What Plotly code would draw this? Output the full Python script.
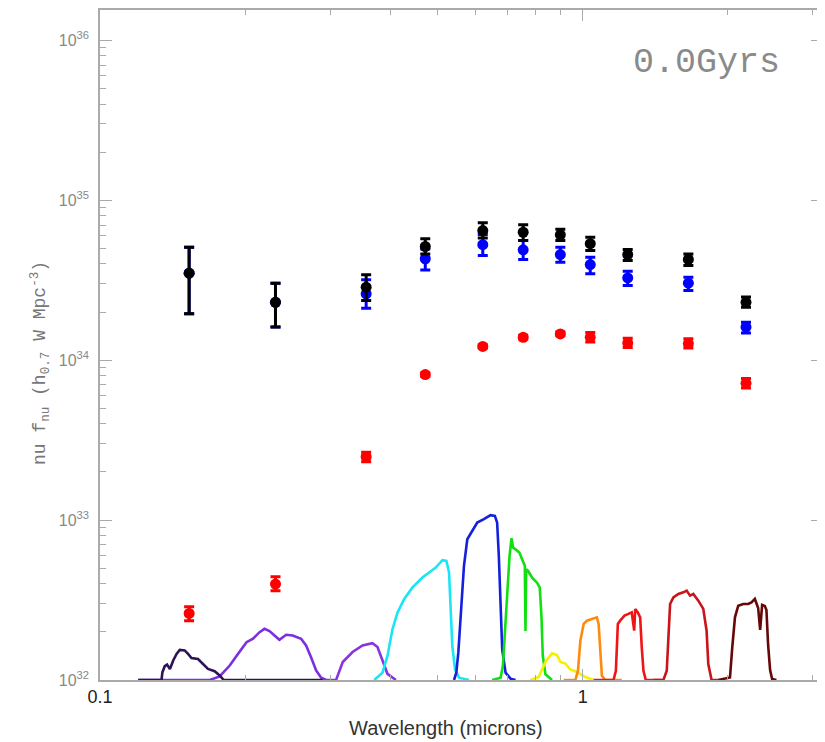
import plotly.graph_objects as go

# ---- photometric points (wavelength in microns, nu f_nu in h0.7 W Mpc^-3) ----
wavelength = [0.153, 0.231, 0.356, 0.472, 0.621, 0.753, 0.899, 1.037, 1.24, 1.656, 2.18]

black_val = [3.50e34, 2.30e34, 2.86e34, 5.14e34, 6.47e34, 6.31e34, 6.08e34, 5.35e34, 4.58e34, 4.27e34, 2.30e34]
black_hi = [5.09e34, 3.03e34, 3.42e34, 5.74e34, 7.23e34, 7.03e34, 6.60e34, 5.88e34, 4.92e34, 4.62e34, 2.48e34]
black_lo = [1.95e34, 1.61e34, 2.36e34, 4.62e34, 5.82e34, 5.60e34, 5.60e34, 4.86e34, 4.20e34, 3.91e34, 2.14e34]

blue_val = [3.50e34, 2.30e34, 2.60e34, 4.31e34, 5.28e34, 4.90e34, 4.58e34, 3.96e34, 3.27e34, 3.03e34, 1.61e34]
blue_hi = [5.09e34, 3.03e34, 3.18e34, 4.95e34, 6.10e34, 5.60e34, 5.09e34, 4.40e34, 3.60e34, 3.30e34, 1.73e34]
blue_lo = [1.95e34, 1.61e34, 2.11e34, 3.67e34, 4.52e34, 4.27e34, 4.10e34, 3.47e34, 2.93e34, 2.73e34, 1.48e34]

red_val = [2.61e32, 3.98e32, 2.49e33, 8.13e33, 1.22e34, 1.39e34, 1.46e34, 1.39e34, 1.28e34, 1.27e34, 7.17e33]
red_hi = [2.87e32, 4.42e32, 2.66e33, 8.35e33, 1.25e34, 1.43e34, 1.50e34, 1.49e34, 1.37e34, 1.36e34, 7.67e33]
red_lo = [2.35e32, 3.61e32, 2.32e33, 7.90e33, 1.19e34, 1.35e34, 1.42e34, 1.30e34, 1.20e34, 1.19e34, 6.70e33]

# ---- filter transmission curves (wavelength, height in units of 1e32) ----
BASE = 1e32
fuv_wl = [0.1200, 0.1341, 0.1347, 0.1362, 0.1377, 0.1396, 0.1418, 0.1441, 0.1463, 0.1498, 0.1522,
          0.1547, 0.1596, 0.1634, 0.1674, 0.1728, 0.1770, 0.1804, 0.2893]
fuv_h = [1.0, 1.0, 1.119, 1.22, 1.25, 1.172, 1.325, 1.455, 1.541, 1.53, 1.455,
         1.373, 1.353, 1.259, 1.172, 1.135, 1.067, 1.0, 1.0]

nuv_wl = [0.1200, 0.1688, 0.1770, 0.1857, 0.1931, 0.2012, 0.2075, 0.2141, 0.2192, 0.2245, 0.2299,
          0.2354, 0.2430, 0.2508, 0.2610, 0.2673, 0.2737, 0.2804, 0.2872, 0.2941]
nuv_h = [1.0, 1.0, 1.052, 1.232, 1.455, 1.724, 1.811, 1.992, 2.089, 2.021, 1.898,
         1.785, 1.918, 1.898, 1.811, 1.644, 1.389, 1.147, 1.032, 1.0]

u_wl = [0.2917, 0.3084, 0.3184, 0.3337, 0.3499, 0.3668, 0.3758, 0.3848, 0.3941, 0.4102]
u_h = [1.0, 1.0, 1.296, 1.497, 1.644, 1.699, 1.609, 1.325, 1.093, 1.0]

g_wl = [0.3700, 0.3848, 0.3941, 0.4036, 0.4133, 0.4266, 0.4437, 0.4656, 0.4807, 0.4963, 0.5122,
        0.5221, 0.5287, 0.5331, 0.5370, 0.5440, 0.5545, 0.5815]
g_h = [1.0, 1.111, 1.413, 2.075, 2.636, 3.199, 3.780, 4.371, 4.697, 5.043, 5.614,
       5.557, 4.697, 2.905, 1.633, 1.167, 1.034, 1.0]

r_wl = [0.5414, 0.5473, 0.5526, 0.5589, 0.5677, 0.5768, 0.5906, 0.6048, 0.6243, 0.6445, 0.6578,
        0.6650, 0.6704, 0.6761, 0.6813, 0.6923, 0.7089, 0.7260]
r_h = [1.0, 1.111, 1.482, 2.515, 5.172, 7.590, 8.568, 9.655, 10.13, 10.74, 10.63,
       9.655, 5.971, 2.905, 1.556, 1.111, 1.019, 1.0]

i_wl = [0.6495, 0.6761, 0.6835, 0.6900, 0.6976, 0.7056, 0.7123, 0.7178, 0.7260, 0.7399, 0.7516,
        0.7589, 0.7613, 0.7636, 0.7709, 0.7857, 0.8045, 0.8150, 0.8216, 0.8268, 0.8374, 0.8641]
i_h = [1.0, 1.034, 1.224, 1.977, 3.694, 5.971, 7.701, 6.72, 6.567, 6.25, 5.557,
       5.172, 2.027, 4.927, 4.807, 4.364, 4.06, 3.780, 2.515, 1.413, 1.086, 1.0]

z_wl = [0.7796, 0.8110, 0.8374, 0.8641, 0.8849, 0.8993, 0.9205, 0.9432, 0.9732, 1.0130, 1.0537]
z_h = [1.0, 1.044, 1.296, 1.471, 1.434, 1.296, 1.268, 1.163, 1.122, 1.044, 1.0]

y_wl = [0.9136, 0.9658, 0.9779, 0.9892, 1.0048, 1.0207, 1.0452, 1.0703, 1.0792, 1.0880, 1.0962,
        1.1142, 1.2052]
y_h = [1.0, 1.0, 1.143, 1.762, 2.240, 2.350, 2.409, 2.465, 2.240, 1.385, 1.064, 1.0, 1.0]

j_wl = [1.0537, 1.1589, 1.1718, 1.1829, 1.1961, 1.2212, 1.2445, 1.2639, 1.2788, 1.2850, 1.3010,
        1.3158, 1.3258, 1.3366, 1.3514, 1.4582]
j_h = [1.0, 1.0, 1.143, 2.240, 2.350, 2.526, 2.589, 2.647, 2.034, 2.781, 2.647,
       2.465, 1.600, 1.143, 1.0, 1.0]

h_wl = [1.402, 1.470, 1.4937, 1.5056, 1.5178, 1.5417, 1.5788, 1.6169, 1.6425, 1.6692, 1.6956,
        1.7366, 1.7783, 1.8064, 1.8211, 1.8499, 1.9098]
h_h = [1.0, 1.0, 1.143, 2.034, 2.989, 3.288, 3.453, 3.533, 3.621, 3.370, 3.453,
       3.135, 2.782, 2.034, 1.259, 1.0, 1.0]

k_wl = [1.9098, 2.0196, 2.0417, 2.0682, 2.1009, 2.1513, 2.2029, 2.2377, 2.2741, 2.3101, 2.3323,
        2.3544, 2.3850, 2.4032, 2.4227, 2.4457, 2.4695, 2.5203]
k_h = [1.0, 1.038, 1.600, 2.465, 2.915, 2.989, 2.989, 3.059, 3.213, 2.822, 2.055,
       2.947, 2.904, 2.742, 1.656, 1.155, 1.015, 1.0]

filters = [
    (nuv_wl, nuv_h, "#7b2fe0"),
    (fuv_wl, fuv_h, "#2e1456"),
    (u_wl, u_h, "#8a33dc"),
    (g_wl, g_h, "#19e6f5"),
    (r_wl, r_h, "#1420dc"),
    (i_wl, i_h, "#10e010"),
    (z_wl, z_h, "#f5f000"),
    (y_wl, y_h, "#ff8a10"),
    (j_wl, j_h, "#f01414"),
    (h_wl, h_h, "#c8141a"),
    (k_wl, k_h, "#660808"),
]

age_label = "0.0Gyrs"

fig = go.Figure()

for wl, hh, col in filters:
    fig.add_trace(go.Scatter(x=wl, y=[v * BASE for v in hh], mode="lines",
                             line=dict(color=col, width=2.6), hoverinfo="skip",
                             showlegend=False))


def err_trace(vals, hi, lo, color):
    return go.Scatter(
        x=wavelength, y=vals, mode="markers",
        marker=dict(color=color, size=11),
        error_y=dict(type="data", symmetric=False,
                     array=[h - v for h, v in zip(hi, vals)],
                     arrayminus=[v - l for l, v in zip(lo, vals)],
                     color=color, thickness=3, width=5),
        showlegend=False)


fig.add_trace(err_trace(red_val, red_hi, red_lo, "#ff0000"))
fig.add_trace(err_trace(blue_val, blue_hi, blue_lo, "#0000ff"))
fig.add_trace(err_trace(black_val, black_hi, black_lo, "#000000"))

axis_col = "#aaaaaa"

y_major = [1e32, 1e33, 1e34, 1e35, 1e36]
y_text = ["10<sup>32</sup>", "10<sup>33</sup>", "10<sup>34</sup>", "10<sup>35</sup>", "10<sup>36</sup>"]
y_minor = [float(m) * 10.0 ** e for e in range(32, 36) for m in range(2, 10)]

x_major = [0.1, 1]
x_text = ["0.1", "1"]
x_minor = [0.2, 0.3, 0.4, 0.5, 0.6, 0.7, 0.8, 0.9, 2, 3]

fig.update_xaxes(
    type="log", range=[-1, 0.498],
    showgrid=False, zeroline=False,
    showline=True, linecolor=axis_col, linewidth=1.5, mirror="allticks",
    ticks="inside", ticklen=11, tickwidth=1, tickcolor=axis_col,
    tickvals=x_major, ticktext=x_text,
    tickfont=dict(family="Liberation Sans", size=18, color="#222"),
    minor=dict(ticks="inside", ticklen=5, tickcolor=axis_col, tickwidth=1, tickvals=x_minor,
               showgrid=False),
)
fig.update_yaxes(
    type="log", range=[32, 36.19],
    showgrid=False, zeroline=False,
    showline=True, linecolor=axis_col, linewidth=1.5, mirror="allticks",
    ticks="inside", ticklen=12, tickwidth=1, tickcolor=axis_col,
    tickvals=y_major, ticktext=y_text,
    tickfont=dict(family="Liberation Sans", size=16, color="#888"),
    ticklabelstandoff=6,
    minor=dict(ticks="inside", ticklen=6, tickcolor=axis_col, tickwidth=1, tickvals=y_minor,
               showgrid=False),
)

fig.add_annotation(text="Wavelength (microns)", xref="paper", yref="paper",
                   x=0.479, y=-0.072, yanchor="middle", showarrow=False,
                   font=dict(family="Liberation Sans", size=20, color="#333"))
fig.add_annotation(text="nu f<sub>nu</sub> (h<sub>0.7</sub> W Mpc<sup>-3</sup>)",
                   xref="paper", yref="paper", x=-0.083, y=0.473, textangle=-90,
                   xanchor="center", yanchor="middle", showarrow=False,
                   font=dict(family="Liberation Mono", size=18, color="#777"))
fig.add_annotation(text=age_label, xref="paper", yref="paper",
                   x=0.839, y=0.921, xanchor="center", yanchor="middle", showarrow=False,
                   font=dict(family="Liberation Mono", size=35, color="#8a8a8a"))

fig.update_layout(
    width=817, height=734,
    margin=dict(l=92, r=0, t=1, b=62),
    paper_bgcolor="white", plot_bgcolor="white",
    showlegend=False,
)

fig.write_html("out.html")
